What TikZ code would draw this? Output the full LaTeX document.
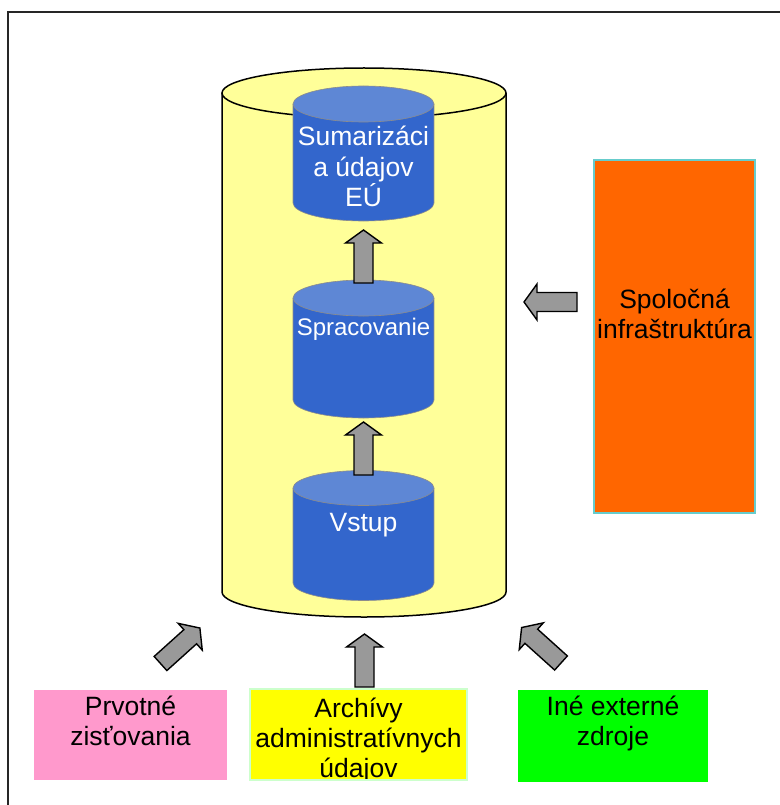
\documentclass[tikz,border=0pt]{standalone}
\usepackage{fontspec}
\setmainfont{Liberation Sans}
\definecolor{cylyellow}{HTML}{FFFF99}
\definecolor{cylblue}{HTML}{3366CC}
\definecolor{cyltop}{HTML}{5E87D5}
\definecolor{cyledge}{HTML}{8C8C8C}
\definecolor{arrowgray}{HTML}{999999}
\definecolor{orangebox}{HTML}{FF6600}
\definecolor{orangeedge}{HTML}{66CCCC}
\definecolor{pinkbox}{HTML}{FF99CC}
\definecolor{yellowbox}{HTML}{FFFF00}
\definecolor{yellowedge}{HTML}{CCFFCC}
\definecolor{greenbox}{HTML}{00FF00}
\newcommand{\drawBlueCyl}[4]{% xc, ytop-center, ybottom-center, b
  \fill[cylblue] (#1-70.5,#2) rectangle (#1+70.5,#3);
  \fill[cylblue] (#1,#3) ellipse [x radius=70.5, y radius=#4];
  \draw[cyledge, line width=0.6pt] (#1-70.5,#2) -- (#1-70.5,#3) arc[start angle=180, end angle=0, x radius=70.5, y radius=#4] -- (#1+70.5,#2);
  \draw[cyledge, fill=cyltop, line width=0.6pt] (#1,#2) ellipse [x radius=70.5, y radius=#4];
}
\tikzset{
  txt/.style={font=\fontsize{26.5}{30}\selectfont, align=center, inner sep=0pt},
  blockarrow/.pic={\draw[fill=arrowgray, draw=black, line width=1.4pt, line join=miter]
    (0,-9.5) -- (40,-9.5) -- (40,-18) -- (53,0) -- (40,18) -- (40,9.5) -- (0,9.5) -- cycle;}
}
\begin{document}
\begin{tikzpicture}[x=1pt, y=-1pt]
\useasboundingbox (0,0) rectangle (779,805);
% frame
\draw[line width=2pt, black!85] (8,810) -- (8,12) -- (785,12);
% big yellow cylinder
\fill[cylyellow] (222,93) rectangle (506,592);
\fill[cylyellow] (364,592) ellipse [x radius=142, y radius=25];
\draw[line width=1.5pt] (222,93) -- (222,592) arc[start angle=180, end angle=0, x radius=142, y radius=25] -- (506,93);
\draw[line width=1.5pt, fill=cylyellow] (364,93) ellipse [x radius=142, y radius=25];
% blue cylinders
\drawBlueCyl{363.5}{104}{203}{18}
\drawBlueCyl{363.5}{298}{400}{18}
\drawBlueCyl{363.5}{488}{583}{17.5}
% texts in cylinders (base anchor = baseline of last line)
\node[txt, white, anchor=base, font=\fontsize{26.5}{31}\selectfont] (sum) at (363.5,207) {Sumarizáci\\a údajov\\EÚ};
\node[txt, white, anchor=base, font=\fontsize{24}{28}\selectfont] (spr) at (363.5,335) {Spracovanie};
\node[txt, white, anchor=base] (vst) at (363.5,531) {Vstup};
% orange box
\node[draw=orangeedge, fill=orangebox, line width=1.5pt, minimum width=161pt, minimum height=353pt, inner sep=0pt] (inf) at (674.5,336.5) {};
\node[txt, anchor=base] (inftxt) at (674.5,338) {Spoločná\\infraštruktúra};
% bottom boxes
\node[fill=pinkbox, minimum width=193pt, minimum height=90pt, inner sep=0pt] (prv) at (130.5,735) {};
\node[txt, anchor=base] (prvtxt) at (130.5,745) {Prvotné\\zisťovania};
\node[draw=yellowedge, fill=yellowbox, line width=1.2pt, minimum width=217pt, minimum height=91pt, inner sep=0pt] (arc) at (358.5,734.5) {};
\begin{scope}
\clip (251,690) rectangle (466,778.5);
\node[txt, anchor=base] (arctxt) at (358.5,777) {Archívy\\administratívnych\\údajov};
\end{scope}
\node[fill=greenbox, minimum width=190pt, minimum height=92pt, inner sep=0pt] (ine) at (613,736) {};
\node[txt, anchor=base] (inetxt) at (613,745) {Iné externé\\zdroje};
% block arrows
\path (363.5,283) pic[rotate=90] {blockarrow};
\path (363.5,475) pic[rotate=90] {blockarrow};
\path (577,302) pic[rotate=180] {blockarrow};
\path (364.5,687) pic[rotate=90] {blockarrow};
\path (160.5,663.5) pic[rotate=42] {blockarrow};
\path (561,663) pic[rotate=138] {blockarrow};
\end{tikzpicture}
\end{document}
